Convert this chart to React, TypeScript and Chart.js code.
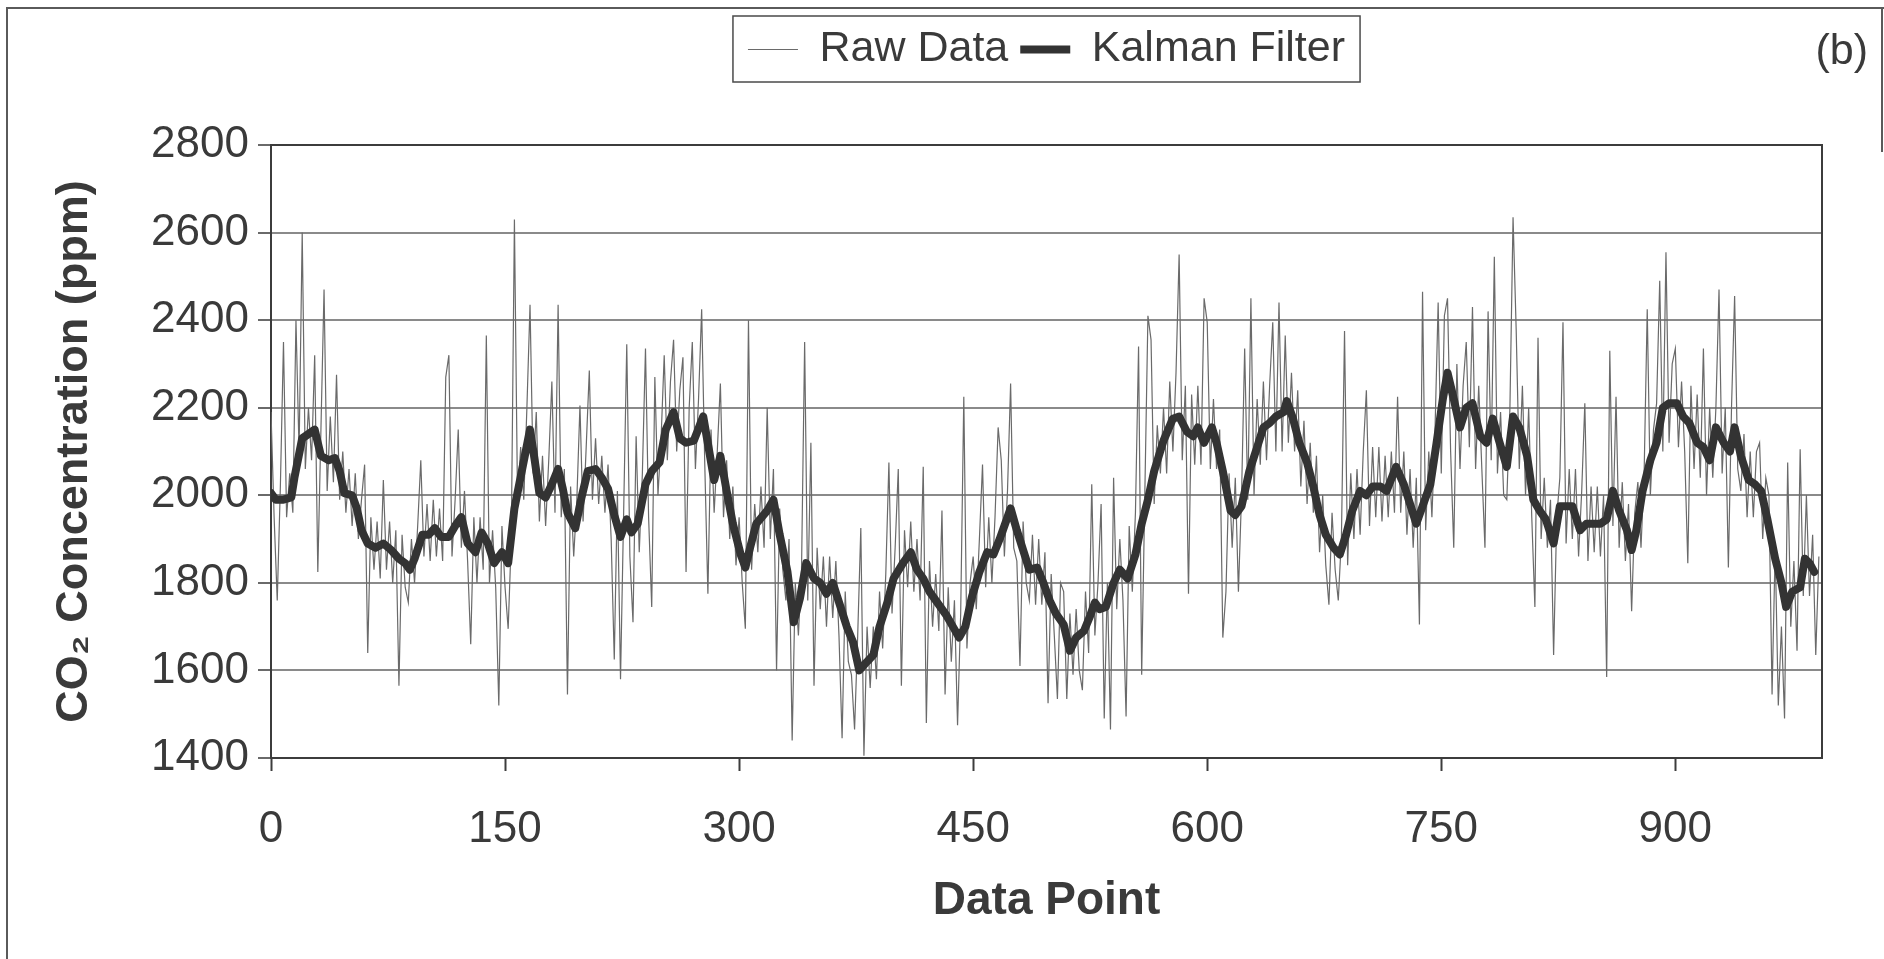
import React, { useEffect, useRef } from "react";
import { Chart, registerables } from "chart.js";

Chart.register(...registerables);

// ---------- data ----------
const xTickValues = [0, 150, 300, 450, 600, 750, 900];
const yTickValues = [1400, 1600, 1800, 2000, 2200, 2400, 2600, 2800];
const xMax = 994;
const RAW_STEP = 2;

const rawValues = [
  2190, 1950, 1760, 2020, 2350, 1950, 2050, 1960, 2400, 2100,
  2600, 2060, 2200, 2080, 2320, 1825, 2150, 2470, 2010, 2180,
  2030, 2275, 1990, 2100, 1960, 2060, 1930, 2050, 1900, 1990,
  2070, 1640, 1950, 1830, 1940, 1810, 2035, 1830, 1940, 1800,
  1920, 1565, 1910, 1790, 1755, 1900, 1800, 1930, 2080, 1860,
  1980, 1850, 1990, 1860, 1970, 1850, 2270, 2320, 1860, 1990,
  2150, 1880, 2010, 1850, 1660, 1950, 1800, 1950, 1830, 2365,
  1800, 1920, 1790, 1520, 1930, 1790, 1695, 1900, 2630, 1990,
  2110, 1990, 2200, 2435, 2050, 2190, 1940, 2090, 1930, 2080,
  2260, 1960, 2435, 1950, 2060, 1545, 2020, 1860, 1990, 2205,
  1940, 2110, 2285, 1990, 2130, 1980, 2090, 1960, 2070, 1900,
  1625, 2010, 1580, 1960, 2345, 1860, 1710, 2135, 1870, 2050,
  2335, 1950, 1745, 2270, 2000, 2130, 2320, 2080, 2260, 2355,
  2100, 2240, 2315, 1825, 2200, 2350, 2060, 2220, 2425, 2070,
  1775, 2150, 1960, 2100, 2255, 1950, 2080, 1900, 2020, 1840,
  1950, 1800, 1695, 2400, 1830, 1980, 1870, 2020, 1880, 2200,
  1900, 2060, 1600, 1970, 1830, 1760, 1900, 1440, 1800, 1680,
  1830, 2350, 1760, 2120, 1565, 1880, 1740, 1860, 1700, 1860,
  1720, 1850, 1680, 1445, 1780, 1620, 1590, 1465, 1680, 1925,
  1405, 1700, 1560, 1700, 1580, 1780, 1650, 1820, 2075, 1730,
  1880, 2060, 1565, 1920, 1790, 1940, 1780, 1900, 1760, 2065,
  1480, 1850, 1700, 1820, 1690, 1965, 1545, 1790, 1620, 1760,
  1475, 1730, 2225, 1650, 1800, 1860, 1740, 1900, 2070, 1790,
  1950, 1800, 1950, 2155, 2080, 1860, 2010, 2255, 1880, 1850,
  1610, 1940, 1800, 1760, 1910, 1750, 1900, 1750, 1870, 1525,
  1820, 1680, 1535, 1800, 1780, 1535, 1730, 1590, 1740, 1600,
  1555, 1780, 1640, 2025, 1680, 1800, 1980, 1490, 1800, 1465,
  2040, 1740, 1900, 1760, 1495, 1930, 1780, 1960, 2340, 1590,
  2000, 2410, 2355, 1980, 2160, 2050, 2200, 2050, 2260, 2100,
  2280, 2550, 2080, 2250, 1775, 2230, 2070, 2250, 2070, 2450,
  2395, 2060, 2220, 2060, 2150, 1675, 1780, 2050, 1880, 2040,
  1780, 2000, 2335, 1990, 2450, 2000, 2220, 2070, 2260, 2080,
  2250, 2395, 2100, 2440, 2100, 2365, 2120, 2280, 2100, 2240,
  2020, 2170, 1980, 2120, 1960, 2090, 1870, 2000, 1840, 1750,
  1960, 1830, 1760, 1900, 2375, 1840, 2050, 1900, 2060, 1910,
  2100, 2240, 1930, 2110, 1950, 2110, 1940, 2090, 1950, 2100,
  1960, 2225, 1960, 2100, 1910, 2060, 1880, 2040, 1705, 2465,
  1920, 2100, 1950, 2150, 2440, 2050, 2410, 2450, 2100, 1880,
  2300, 2060, 2250, 2350, 2110, 2430, 2060, 2250, 2060, 1880,
  2420, 2080, 2545, 2050, 2190, 2000, 1990, 2200, 2635, 2380,
  2060, 2250, 2000, 2200, 1950, 1745, 2360, 1900, 2040, 1880,
  1990, 1635, 1950, 2040, 2395, 1890, 2060, 1900, 2060, 1860,
  2010, 2210, 1850, 2020, 1870, 2020, 1860, 2000, 1585, 2330,
  1930, 2225, 1880, 2030, 1850, 1980, 1735, 1960, 2030, 1880,
  2050, 2425, 2000, 2150, 2210, 2490, 2100, 2555, 2120, 2300,
  2335, 2110, 2260, 2100, 1845, 2250, 2060, 2230, 2040, 2335,
  2000, 2200, 2040, 2200, 2470, 2050, 2200, 1835, 2200, 2455,
  2060, 2010, 2140, 1950, 2100, 1950, 2100, 2120, 1900, 2040,
  2000, 1545, 1880, 1520, 1700, 1490, 2075, 1700, 1850, 1645,
  2105, 1770, 2000, 1770, 1910, 1635, 1860,
];

const kalmanIdx = [
  0, 3, 8, 13, 15, 20, 28, 32, 37, 41,
  44, 47, 52, 55, 58, 62, 67, 72, 77, 82,
  86, 89, 92, 97, 101, 105, 109, 114, 118, 122,
  126, 131, 135, 139, 143, 148, 152, 156, 161, 166,
  169, 172, 176, 180, 184, 187, 190, 195, 199, 203,
  208, 212, 216, 220, 224, 228, 231, 235, 240, 244,
  249, 253, 258, 262, 266, 271, 277, 284, 288, 292,
  296, 301, 304, 307, 311, 318, 322, 326, 331, 335,
  339, 343, 348, 352, 356, 360, 365, 369, 373, 377,
  382, 386, 390, 395, 399, 405, 410, 414, 418, 422,
  429, 433, 437, 441, 445, 449, 454, 459, 463, 467,
  474, 478, 482, 486, 491, 495, 499, 503, 508, 512,
  516, 521, 525, 528, 531, 535, 540, 544, 549, 554,
  558, 562, 566, 572, 578, 582, 587, 591, 594, 598,
  603, 606, 610, 615, 618, 622, 627, 632, 636, 640,
  644, 649, 651, 655, 659, 664, 668, 672, 676, 681,
  685, 689, 693, 698, 702, 706, 711, 715, 721, 726,
  730, 734, 738, 743, 747, 751, 754, 758, 762, 766,
  770, 775, 779, 783, 787, 792, 796, 800, 805, 809,
  813, 817, 822, 826, 830, 834, 839, 843, 847, 852,
  856, 860, 864, 869, 872, 875, 879, 884, 888, 892,
  896, 901, 905, 909, 914, 918, 922, 926, 931, 935,
  938, 942, 947, 951, 955, 959, 964, 968, 971, 975,
  980, 983, 986, 989,
];

const kalmanValues = [
  2005, 1990, 1990, 1995, 2040, 2130, 2150, 2090, 2080, 2085,
  2055, 2005, 2000, 1970, 1920, 1890, 1880, 1890, 1875, 1855,
  1845, 1830, 1855, 1910, 1910, 1925, 1905, 1905, 1930, 1950,
  1890, 1870, 1915, 1890, 1845, 1870, 1845, 1970, 2060, 2150,
  2080, 2005, 1995, 2025, 2060, 2015, 1960, 1925, 1995, 2055,
  2060, 2040, 2015, 1955, 1905, 1945, 1915, 1935, 2025, 2055,
  2075, 2150, 2190, 2130, 2120, 2125, 2180, 2035, 2090, 2010,
  1935, 1865, 1835, 1880, 1935, 1965, 1990, 1910, 1825, 1710,
  1765, 1845, 1810, 1800, 1775, 1800, 1745, 1700, 1665, 1600,
  1620, 1635, 1700, 1755, 1810, 1845, 1870, 1830, 1810, 1780,
  1745, 1725, 1700, 1675, 1700, 1765, 1825, 1870, 1865, 1900,
  1970, 1920, 1875, 1830, 1835, 1800, 1760, 1730, 1705, 1645,
  1675, 1690, 1725, 1755, 1740, 1745, 1800, 1830, 1810, 1865,
  1935, 1990, 2055, 2125, 2175, 2180, 2145, 2135, 2155, 2120,
  2155, 2120, 2055, 1965, 1955, 1975, 2055, 2110, 2155, 2165,
  2180, 2190, 2215, 2175, 2120, 2075, 2020, 1955, 1910, 1880,
  1865, 1910, 1965, 2010, 2000, 2020, 2020, 2010, 2065, 2025,
  1980, 1935, 1975, 2025, 2120, 2220, 2280, 2220, 2155, 2200,
  2210, 2135, 2120, 2175, 2125, 2065, 2180, 2155, 2090, 1990,
  1965, 1945, 1890, 1975, 1975, 1975, 1920, 1935, 1935, 1935,
  1945, 2010, 1965, 1920, 1875, 1920, 2010, 2080, 2120, 2200,
  2210, 2210, 2180, 2165, 2120, 2110, 2080, 2155, 2120, 2100,
  2155, 2090, 2035, 2025, 2010, 1945, 1855, 1800, 1745, 1780,
  1790, 1855, 1845, 1825,
];

const seriesLabels = ["Raw Data", "Kalman Filter"];
const panelLabel = "(b)";
const xTitle = "Data Point";
const yTitle = "CO\u2082 Concentration (ppm)";

// ---------- styling ----------
const FONT = '"Liberation Sans", Arial, Helvetica, sans-serif';
const TEXT = "#3a3a3a";

const decorPlugin = {
  id: "decor",
  beforeLayout(chart: any) {
    const lg = chart.legend;
    if (lg && !lg.__patched) {
      const orig = lg.fit.bind(lg);
      lg.fit = function () {
        orig();
        this.height = 129;
      };
      lg.__patched = true;
    }
  },
  afterDraw(chart: any) {
    const ctx = chart.ctx;
    const ca = chart.chartArea;
    ctx.save();
    ctx.strokeStyle = "#3c3c3c";
    ctx.lineWidth = 2;
    ctx.beginPath();
    ctx.moveTo(ca.left, ca.top);
    ctx.lineTo(ca.right, ca.top);
    ctx.lineTo(ca.right, ca.bottom);
    ctx.stroke();
    const lg = chart.legend;
    if (lg && lg.legendHitBoxes && lg.legendHitBoxes.length) {
      const hb = lg.legendHitBoxes;
      const l = Math.min(...hb.map((b: any) => b.left)) - 15;
      const r = Math.max(...hb.map((b: any) => b.left + b.width)) + 15;
      ctx.strokeStyle = "#4a4a4a";
      ctx.lineWidth = 1.5;
      ctx.strokeRect(l, lg.top, r - l, 66);
    }
    ctx.fillStyle = TEXT;
    ctx.font = `43px ${FONT}`;
    ctx.textAlign = "right";
    ctx.textBaseline = "middle";
    ctx.fillText(panelLabel, 1868, 52);
    ctx.restore();
  },
};

export default function App() {
  const ref = useRef<HTMLCanvasElement | null>(null);

  useEffect(() => {
    if (!ref.current) return;
    const rawPoints = rawValues.map((v, k) => ({ x: k * RAW_STEP, y: v }));
    const kalmanPoints = kalmanIdx.map((x, k) => ({ x, y: kalmanValues[k] }));

    const chart = new Chart(ref.current, {
      type: "line",
      data: {
        datasets: [
          {
            label: seriesLabels[0],
            data: rawPoints,
            borderColor: "#6a6a6a",
            backgroundColor: "#6a6a6a",
            borderWidth: 1.2,
            pointRadius: 0,
            tension: 0,
            order: 2,
          },
          {
            label: seriesLabels[1],
            data: kalmanPoints,
            borderColor: "#333333",
            backgroundColor: "#333333",
            borderWidth: 8,
            pointRadius: 0,
            tension: 0,
            borderJoinStyle: "round",
            borderCapStyle: "round",
            order: 1,
          },
        ],
      },
      options: {
        responsive: false,
        animation: false,
        events: [],
        layout: { padding: { top: 16, right: 62, left: 0, bottom: 0 } },
        plugins: {
          tooltip: { enabled: false },
          legend: {
            display: true,
            position: "top",
            fullSize: false,
            labels: {
              usePointStyle: true,
              pointStyle: "line",
              pointStyleWidth: 50,
              padding: 12,
              color: TEXT,
              font: { family: FONT, size: 43 },
              sort: (a: any, b: any) => a.datasetIndex - b.datasetIndex,
            },
          },
        },
        scales: {
          x: {
            type: "linear",
            min: 0,
            max: xMax,
            afterBuildTicks: (axis: any) => {
              axis.ticks = axis.ticks.filter((t: any) => xTickValues.includes(t.value));
            },
            afterFit: (scale: any) => {
              scale.height = 201;
            },
            ticks: {
              stepSize: 150,
              padding: 32,
              color: TEXT,
              font: { family: FONT, size: 44 },
              maxRotation: 0,
              autoSkip: false,
              callback: (v: any) => String(v),
            },
            grid: {
              drawOnChartArea: false,
              drawTicks: true,
              tickLength: 13,
              tickWidth: 2,
              tickColor: "#3c3c3c",
            },
            border: { display: true, color: "#3c3c3c", width: 2 },
            title: {
              display: true,
              text: xTitle,
              color: TEXT,
              font: { family: FONT, size: 46, weight: "bold" },
              padding: { top: 0, bottom: 30 },
            },
          },
          y: {
            type: "linear",
            min: yTickValues[0],
            max: yTickValues[yTickValues.length - 1],
            afterBuildTicks: (axis: any) => {
              axis.ticks = yTickValues.map((v) => ({ value: v }));
            },
            afterFit: (scale: any) => {
              scale.width = 271;
            },
            ticks: {
              stepSize: 200,
              padding: 9,
              color: TEXT,
              font: { family: FONT, size: 44 },
              callback: (v: any) => String(v),
            },
            grid: {
              color: "#8a8a8a",
              lineWidth: 2,
              drawTicks: true,
              tickLength: 13,
              tickColor: "#6a6a6a",
            },
            border: { display: true, color: "#3c3c3c", width: 2 },
            title: {
              display: true,
              text: yTitle,
              color: TEXT,
              font: { family: FONT, size: 45, weight: "bold" },
              padding: { top: 48, bottom: 0 },
            },
          },
        },
      },
      plugins: [decorPlugin],
    } as any);

    return () => chart.destroy();
  }, []);

  return (
    <div
      style={{
        position: "absolute",
        left: 0,
        top: 0,
        width: 1884,
        height: 959,
        overflow: "hidden",
        background: "#ffffff",
      }}
    >
      <div
        style={{
          position: "absolute",
          left: 6,
          top: 7,
          width: 1900,
          height: 1000,
          borderTop: "2px solid #5a5a5a",
          borderLeft: "2px solid #5a5a5a",
        }}
      />
      <div
        style={{
          position: "absolute",
          left: 1881,
          top: 7,
          width: 0,
          height: 145,
          borderLeft: "2px solid #5a5a5a",
        }}
      />
      <canvas
        ref={ref}
        width={1884}
        height={959}
        style={{ position: "absolute", left: 0, top: 0, width: 1884, height: 959 }}
      />
    </div>
  );
}
